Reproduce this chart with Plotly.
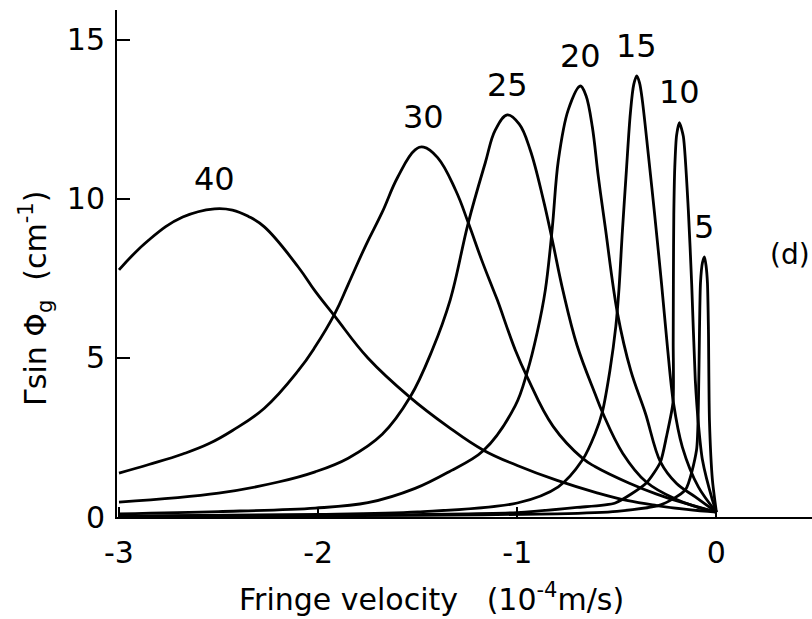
import plotly.graph_objects as go

# ---- data (x in 1e-4 m/s, y in cm^-1) ----
x40 = [-3.0, -2.85, -2.68, -2.52, -2.43, -2.35, -2.27, -2.10, -2.015, -1.915, -1.75, -1.54, -1.35, -1.17, -1.0, -0.8, -0.6, -0.45, -0.3, -0.15, 0.0]
y40 = [7.77, 8.71, 9.43, 9.69, 9.65, 9.45, 9.12, 7.86, 7.1, 6.3, 5.0, 3.77, 2.85, 2.1, 1.62, 1.15, 0.76, 0.52, 0.36, 0.24, 0.15]

x30 = [-3.0, -2.85, -2.68, -2.55, -2.43, -2.27, -2.10, -2.015, -1.915, -1.85, -1.76, -1.68, -1.60, -1.513, -1.47, -1.40, -1.31, -1.246, -1.18, -1.126, -1.10, -1.01, -0.95, -0.82, -0.673, -0.608, -0.44, -0.3, -0.15, 0.0]
y30 = [1.38, 1.65, 1.98, 2.3, 2.72, 3.42, 4.6, 5.35, 6.41, 7.3, 8.55, 9.56, 10.69, 11.54, 11.63, 11.3, 10.28, 9.25, 8.1, 7.23, 6.82, 5.25, 4.4, 2.85, 1.85, 1.58, 1.07, 0.72, 0.42, 0.15]

x25 = [-3.0, -2.5, -2.2, -2.015, -1.849, -1.678, -1.538, -1.427, -1.337, -1.246, -1.161, -1.11, -1.05, -0.99, -0.935, -0.869, -0.824, -0.77, -0.70, -0.608, -0.573, -0.47, -0.352, -0.2, -0.1, 0.0]
y25 = [0.47, 0.75, 1.1, 1.42, 1.85, 2.6, 3.77, 5.25, 6.82, 9.25, 11.13, 12.17, 12.64, 12.35, 11.54, 9.97, 8.7, 7.1, 5.4, 3.85, 3.3, 2.0, 1.1, 0.55, 0.32, 0.15]

x20 = [-3.0, -2.5, -2.015, -1.75, -1.513, -1.35, -1.171, -1.01, -0.95, -0.90, -0.859, -0.824, -0.794, -0.744, -0.683, -0.655, -0.623, -0.593, -0.558, -0.497, -0.43, -0.357, -0.281, -0.2, -0.106, 0.0]
y20 = [0.1, 0.17, 0.28, 0.45, 0.9, 1.4, 2.08, 3.5, 4.56, 5.8, 7.14, 9.1, 11.2, 12.8, 13.55, 13.25, 12.26, 10.7, 9.1, 6.41, 4.6, 3.27, 1.73, 1.05, 0.63, 0.15]

x15 = [-3.0, -2.0, -1.5, -1.0, -0.794, -0.673, -0.608, -0.573, -0.535, -0.505, -0.49, -0.472, -0.452, -0.432, -0.415, -0.40, -0.386, -0.372, -0.342, -0.31, -0.275, -0.246, -0.216, -0.171, -0.09, 0.0]
y15 = [0.03, 0.08, 0.16, 0.44, 0.95, 1.79, 2.64, 3.3, 4.6, 6.0, 7.1, 9.0, 10.9, 12.7, 13.6, 13.87, 13.65, 13.1, 11.4, 9.5, 7.3, 5.35, 3.6, 2.2, 0.94, 0.15]

x10 = [-3.0, -2.0, -1.0, -0.7, -0.508, -0.352, -0.281, -0.251, -0.218, -0.217, -0.216, -0.214, -0.209, -0.2, -0.186, -0.166, -0.141, -0.124, -0.106, -0.09, -0.07, -0.02, 0.0]
y10 = [0.02, 0.05, 0.14, 0.3, 0.44, 1.07, 1.73, 2.52, 3.6, 5.5, 7.5, 9.5, 11.0, 12.0, 12.4, 11.96, 9.65, 7.3, 4.3, 2.9, 1.79, 0.53, 0.15]

x5 = [-3.0, -1.5, -0.8, -0.5, -0.28, -0.156, -0.1, -0.09, -0.085, -0.08, -0.07, -0.06, -0.052, -0.045, -0.04, -0.035, -0.02, 0.0]
y5 = [0.02, 0.05, 0.1, 0.18, 0.38, 0.85, 2.1, 3.7, 5.88, 7.36, 8.0, 8.18, 7.9, 7.36, 5.88, 3.05, 1.16, 0.15]

curve_labels = ["40", "30", "25", "20", "15", "10", "5"]
xs_all = [x40, x30, x25, x20, x15, x10, x5]
ys_all = [y40, y30, y25, y20, y15, y10, y5]
smooth_all = [1.2, 1.2, 1.1, 1.0, 0.9, 0.6, 0.6]

x_tickvals = [-3, -2, -1, 0]
x_ticktext = ["-3", "-2", "-1", "0"]
y_tickvals = [0, 5, 10, 15]
y_ticktext = ["0", "5", "10", "15"]

FONT = "DejaVu Sans"

fig = go.Figure()
annotations = []
for lab, xs, ys, sm in zip(curve_labels, xs_all, ys_all, smooth_all):
    fig.add_trace(go.Scatter(
        x=xs, y=ys, mode="lines",
        line=dict(color="black", width=2.8, shape="spline", smoothing=sm),
        showlegend=False, hoverinfo="skip"))
    i = ys.index(max(ys))
    annotations.append(dict(
        x=xs[i], y=ys[i] + 0.95, xref="x", yref="y", text=lab,
        showarrow=False, xanchor="center", yanchor="middle",
        font=dict(family=FONT, size=32, color="black")))

annotations.append(dict(
    x=0.968, y=0.517, xref="paper", yref="paper", text="(d)",
    showarrow=False, xanchor="center", yanchor="middle",
    font=dict(family=FONT, size=28, color="black")))
annotations.append(dict(
    x=0.452, y=-0.158, xref="paper", yref="paper",
    text="Fringe velocity\u00a0\u00a0\u00a0(10<sup>-4</sup>m/s)",
    showarrow=False, xanchor="center", yanchor="middle",
    font=dict(family=FONT, size=30, color="black")))
annotations.append(dict(
    x=-0.1166, y=0.432, xref="paper", yref="paper",
    text="\u0393sin \u03a6<sub>g</sub>\u00a0\u00a0(cm<sup>-1</sup>)",
    textangle=-90, showarrow=False, xanchor="center", yanchor="middle",
    font=dict(family=FONT, size=30, color="black")))

fig.update_layout(
    width=812, height=619,
    margin=dict(l=117, r=0, t=10, b=102),
    paper_bgcolor="white", plot_bgcolor="white",
    annotations=annotations,
    xaxis=dict(range=[-3.01, 0.48], showgrid=False, zeroline=False,
               showline=True, linecolor="black", linewidth=2,
               tickmode="array", tickvals=x_tickvals, ticktext=x_ticktext,
               ticks="inside", ticklen=10, tickwidth=1.5, tickcolor="black",
               ticklabelstandoff=8,
               tickfont=dict(family=FONT, size=30, color="black")),
    yaxis=dict(range=[0, 15.94], showgrid=False, zeroline=False,
               showline=True, linecolor="black", linewidth=2,
               tickmode="array", tickvals=y_tickvals, ticktext=y_ticktext,
               ticks="inside", ticklen=13, tickwidth=2, tickcolor="black",
               ticklabelstandoff=4,
               tickfont=dict(family=FONT, size=30, color="black")),
)

fig.write_html("out.html")
